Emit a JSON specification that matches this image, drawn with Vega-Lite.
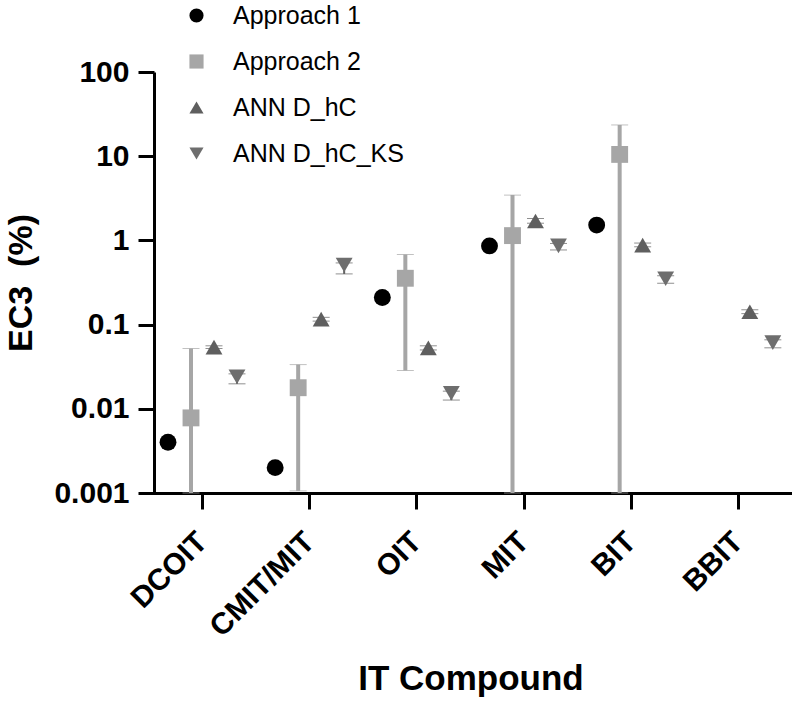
{
  "$schema": "https://vega.github.io/schema/vega-lite/v6.json",
  "width": 643,
  "height": 421,
  "autosize": "none",
  "padding": {"left": 149, "top": 72, "right": 0, "bottom": 210},
  "background": "white",
  "config": {
    "view": {"stroke": null},
    "font": "Liberation Sans",
    "axis": {"grid": false, "domainColor": "black", "domainWidth": 3, "tickColor": "black", "tickWidth": 3, "tickSize": 16, "labelColor": "black", "titleColor": "black", "labelFont": "Liberation Sans", "titleFont": "Liberation Sans", "labelFontWeight": "bold", "titleFontWeight": "bold"}
  },
  "data": {
    "values": [
      {"compound": "DCOIT", "series": "Approach 1", "ec3": 0.004},
      {"compound": "CMIT/MIT", "series": "Approach 1", "ec3": 0.002},
      {"compound": "OIT", "series": "Approach 1", "ec3": 0.21},
      {"compound": "MIT", "series": "Approach 1", "ec3": 0.86},
      {"compound": "BIT", "series": "Approach 1", "ec3": 1.52},
      {"compound": "DCOIT", "series": "Approach 2", "ec3": 0.0078, "lo": 0.001, "hi": 0.052},
      {"compound": "CMIT/MIT", "series": "Approach 2", "ec3": 0.0178, "lo": 0.00106, "hi": 0.0335},
      {"compound": "OIT", "series": "Approach 2", "ec3": 0.355, "lo": 0.0285, "hi": 0.68},
      {"compound": "MIT", "series": "Approach 2", "ec3": 1.14, "lo": 0.001, "hi": 3.45},
      {"compound": "BIT", "series": "Approach 2", "ec3": 10.5, "lo": 0.001, "hi": 23.5},
      {"compound": "DCOIT", "series": "ANN D_hC", "ec3": 0.054, "lo": 0.052, "hi": 0.056},
      {"compound": "CMIT/MIT", "series": "ANN D_hC", "ec3": 0.116, "lo": 0.11, "hi": 0.122},
      {"compound": "OIT", "series": "ANN D_hC", "ec3": 0.053, "lo": 0.05, "hi": 0.056},
      {"compound": "MIT", "series": "ANN D_hC", "ec3": 1.7, "lo": 1.6, "hi": 1.82},
      {"compound": "BIT", "series": "ANN D_hC", "ec3": 0.88, "lo": 0.84, "hi": 0.93},
      {"compound": "BBIT", "series": "ANN D_hC", "ec3": 0.142, "lo": 0.135, "hi": 0.15},
      {"compound": "DCOIT", "series": "ANN D_hC_KS", "ec3": 0.024, "lo": 0.0198, "hi": 0.026},
      {"compound": "CMIT/MIT", "series": "ANN D_hC_KS", "ec3": 0.51, "lo": 0.4, "hi": 0.54},
      {"compound": "OIT", "series": "ANN D_hC_KS", "ec3": 0.0153, "lo": 0.0127, "hi": 0.0162},
      {"compound": "MIT", "series": "ANN D_hC_KS", "ec3": 0.86, "lo": 0.77, "hi": 0.92},
      {"compound": "BIT", "series": "ANN D_hC_KS", "ec3": 0.35, "lo": 0.31, "hi": 0.38},
      {"compound": "BBIT", "series": "ANN D_hC_KS", "ec3": 0.061, "lo": 0.053, "hi": 0.066}
    ]
  },
  "encoding": {
    "x": {
      "field": "compound", "type": "nominal",
      "sort": ["DCOIT", "CMIT/MIT", "OIT", "MIT", "BIT", "BBIT"],
      "scale": {"domain": ["DCOIT", "CMIT/MIT", "OIT", "MIT", "BIT", "BBIT"], "paddingInner": 0, "paddingOuter": 0},
      "axis": {"title": "IT Compound", "labelAngle": -45, "labelAlign": "right", "labelBaseline": "middle", "labelFontSize": 30, "labelPadding": 28, "titleFontSize": 35, "titlePadding": 20}
    },
    "xOffset": {
      "field": "series", "type": "nominal",
      "scale": {"type": "point", "domain": ["Approach 1", "Approach 2", "ANN D_hC", "ANN D_hC_KS"], "range": [19, 88], "padding": 0}
    },
    "y": {
      "field": "ec3", "type": "quantitative",
      "scale": {"type": "log", "domain": [0.001, 100], "nice": false},
      "axis": {"title": "EC3\u00a0\u00a0(%)", "offset": -5, "values": [0.001, 0.01, 0.1, 1, 10, 100], "format": "~g", "labelFontSize": 30, "labelPadding": 9, "titleFontSize": 34, "titlePadding": 15}
    }
  },
  "layer": [
    {
      "transform": [{"filter": "isValid(datum.lo)"}],
      "mark": {"type": "rule"},
      "encoding": {
        "y": {"field": "lo", "type": "quantitative"},
        "y2": {"field": "hi"},
        "color": {"condition": {"test": "datum.series === 'Approach 2'", "value": "#a6a6a6"}, "value": "#5f5f5f"},
        "strokeWidth": {"condition": {"test": "datum.series === 'Approach 2'", "value": 4}, "value": 2}
      }
    },
    {
      "transform": [{"filter": "isValid(datum.lo)"}],
      "mark": {"type": "tick", "size": 17},
      "encoding": {
        "y": {"field": "lo", "type": "quantitative"},
        "color": {"condition": {"test": "datum.series === 'Approach 2'", "value": "#a6a6a6"}, "value": "#5f5f5f"},
        "strokeWidth": {"condition": {"test": "datum.series === 'Approach 2'", "value": 4}, "value": 2.5}
      }
    },
    {
      "transform": [{"filter": "isValid(datum.hi)"}],
      "mark": {"type": "tick", "size": 17},
      "encoding": {
        "y": {"field": "hi", "type": "quantitative"},
        "color": {"condition": {"test": "datum.series === 'Approach 2'", "value": "#a6a6a6"}, "value": "#5f5f5f"},
        "strokeWidth": {"condition": {"test": "datum.series === 'Approach 2'", "value": 4}, "value": 2.5}
      }
    },
    {
      "mark": {"type": "point", "filled": true, "opacity": 1, "size": 285},
      "encoding": {
        "color": {
          "field": "series", "type": "nominal",
          "scale": {"domain": ["Approach 1", "Approach 2", "ANN D_hC", "ANN D_hC_KS"], "range": ["#000000", "#a6a6a6", "#5f5f5f", "#6e6e6e"]},
          "legend": {"title": null, "orient": "none", "legendX": 35, "legendY": -69, "labelFontSize": 25, "labelFont": "Liberation Sans", "labelColor": "black", "labelLimit": 0, "symbolSize": 200, "labelOffset": 24, "rowPadding": 20, "padding": 0, "symbolOpacity": 1}
        },
        "shape": {
          "field": "series", "type": "nominal",
          "scale": {"domain": ["Approach 1", "Approach 2", "ANN D_hC", "ANN D_hC_KS"], "range": ["circle", "square", "triangle-up", "triangle-down"]},
          "legend": {"title": null, "orient": "none", "legendX": 35, "legendY": -69, "labelFontSize": 25, "labelFont": "Liberation Sans", "labelColor": "black", "labelLimit": 0, "symbolSize": 200, "labelOffset": 24, "rowPadding": 20, "padding": 0, "symbolOpacity": 1}
        }
      }
    }
  ]
}
